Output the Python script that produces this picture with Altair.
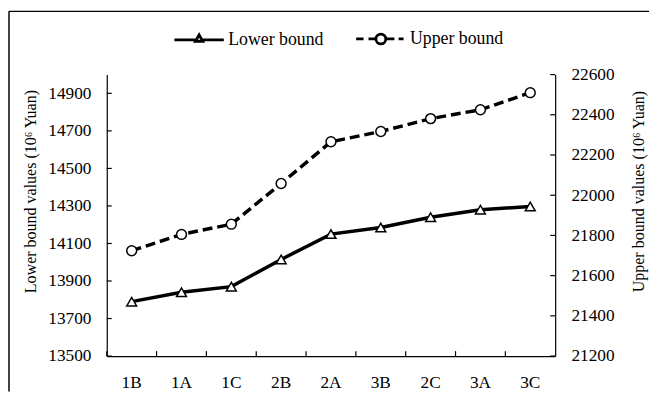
import altair as alt
import pandas as pd

categories = ["1B", "1A", "1C", "2B", "2A", "3B", "2C", "3A", "3C"]
lower_values = [13790, 13840, 13870, 14015, 14150, 14185, 14240, 14280, 14297]
upper_values = [21724, 21805, 21856, 22058, 22266, 22317, 22381, 22425, 22510]
series_names = ["Lower bound", "Upper bound"]
left_ticks = [13500, 13700, 13900, 14100, 14300, 14500, 14700, 14900]
right_ticks = [21200, 21400, 21600, 21800, 22000, 22200, 22400, 22600]

df = pd.DataFrame({"cat": categories, "lower": lower_values, "upper": upper_values})
lt = pd.DataFrame({"lower": left_ticks})
rt = pd.DataFrame({"upper": right_ticks})
cat_df = pd.DataFrame({"cat": categories})
leg_df = pd.DataFrame({"series": series_names, "cat": categories[:2]})
frame_df = pd.DataFrame({"a": [0]})

W, H = 454, 285
FONT = "Liberation Serif"
FS = 17.5
TFS = 16.2

xscale = alt.Scale(type="band", domain=categories, paddingInner=0, paddingOuter=0)
lscale = alt.Scale(domain=[13500, 15000], nice=False, zero=False)
uscale = alt.Scale(domain=[21200, 22600], nice=False, zero=False)

x_axis = alt.Axis(title=None, labelAngle=0, ticks=False, tickSize=0,
                  labelPadding=18, labelFontSize=FS, labelFont=FONT,
                  labelColor="black", domainColor="black", domainWidth=1.2)
l_axis = alt.Axis(values=left_ticks, format="d", title="Lower bound values (10⁶ Yuan)",
                  ticks=False, tickSize=0, grid=False, labelPadding=16,
                  labelFontSize=FS, labelFont=FONT, labelColor="black",
                  titleFont=FONT, titleFontSize=TFS, titleFontWeight="normal",
                  titleColor="black", titlePadding=9, titleY=118,
                  domainColor="black", domainWidth=1.2)
u_axis = alt.Axis(values=right_ticks, format="d", orient="right",
                  title="Upper bound values (10⁶ Yuan)", titleAngle=270,
                  ticks=False, tickSize=0, grid=False, labelPadding=16,
                  labelFontSize=FS, labelFont=FONT, labelColor="black",
                  titleFont=FONT, titleFontSize=TFS, titleFontWeight="normal",
                  titleColor="black", titlePadding=33, titleY=118,
                  domainColor="black", domainWidth=1.2)

x_mid = alt.X("cat:N", scale=xscale, bandPosition=0.5, sort=categories, axis=x_axis)
x_start = alt.X("cat:N", scale=xscale, bandPosition=0, sort=categories, axis=x_axis)
y_low = alt.Y("lower:Q", scale=lscale, axis=l_axis)
y_up = alt.Y("upper:Q", scale=uscale, axis=u_axis)

lower_line = alt.Chart(df).mark_line(color="black", strokeWidth=3.5).encode(x=x_mid, y=y_low)
lower_pts = alt.Chart(df).mark_point(shape="triangle-up", size=100, filled=True, fill="white",
                                     stroke="black", strokeWidth=1.5, opacity=1).encode(
    x=x_mid, y=y_low)
left_tick_marks = alt.Chart(lt).mark_rule(color="black", strokeWidth=1.2).encode(
    y=y_low, x=alt.value(0), x2=alt.value(5))
x_tick_marks = alt.Chart(cat_df).mark_rule(color="black", strokeWidth=1.2).encode(
    x=x_start, y=alt.value(H), y2=alt.value(H - 5))

lower_group = alt.layer(lower_line, lower_pts, left_tick_marks, x_tick_marks)

upper_line = alt.Chart(df).mark_line(color="black", strokeWidth=3.5, strokeDash=[10, 5]).encode(
    x=x_mid, y=y_up)
upper_pts = alt.Chart(df).mark_point(shape="circle", size=100, filled=True, fill="white",
                                     stroke="black", strokeWidth=1.5, opacity=1).encode(
    x=x_mid, y=y_up)
right_tick_marks = alt.Chart(rt).mark_rule(color="black", strokeWidth=1.2).encode(
    y=y_up, x=alt.value(W - 5), x2=alt.value(W))

upper_group = alt.layer(upper_line, upper_pts, right_tick_marks)

path_lower = ("M-1,0H-0.115M0.115,0H1"
              "M0,-0.2L0.15,0.06L-0.15,0.06Z")
path_upper = ("M-1,0H-0.7M-0.5,0H-0.2M0.2,0H0.55M0.72,0H0.92"
              "M0.2,0A0.2,0.2,0,1,1,-0.2,0A0.2,0.2,0,1,1,0.2,0Z")

legend_layer = alt.Chart(leg_df).mark_point(opacity=0).encode(
    x=x_mid,
    shape=alt.Shape("series:N",
                    scale=alt.Scale(domain=series_names, range=[path_lower, path_upper]),
                    legend=alt.Legend(orient="none", legendX=67, legendY=-63,
                                      direction="horizontal", title=None,
                                      labelFont=FONT, labelFontSize=18, labelColor="black",
                                      symbolSize=2500, symbolStrokeWidth=2.8,
                                      symbolFillColor="white", symbolStrokeColor="black",
                                      symbolOpacity=1, columnPadding=26, labelOffset=3)),
)

frame_top = alt.Chart(frame_df).mark_rule(color="black", strokeWidth=1.5).encode(
    x=alt.value(-99), x2=alt.value(W + 95), y=alt.value(-64))
frame_left = alt.Chart(frame_df).mark_rule(color="black", strokeWidth=1.5).encode(
    x=alt.value(-99), y=alt.value(-64), y2=alt.value(H + 36))

chart = alt.layer(lower_group, upper_group, legend_layer, frame_top, frame_left).resolve_scale(
    y="independent"
).properties(
    width=W, height=H,
    padding={"left": 100, "top": 65, "right": 95, "bottom": 36},
    autosize=alt.AutoSizeParams(type="none"),
    background="white",
).configure_view(stroke=None)

chart.save("out.html", embed_options={"renderer": "svg", "actions": False})
